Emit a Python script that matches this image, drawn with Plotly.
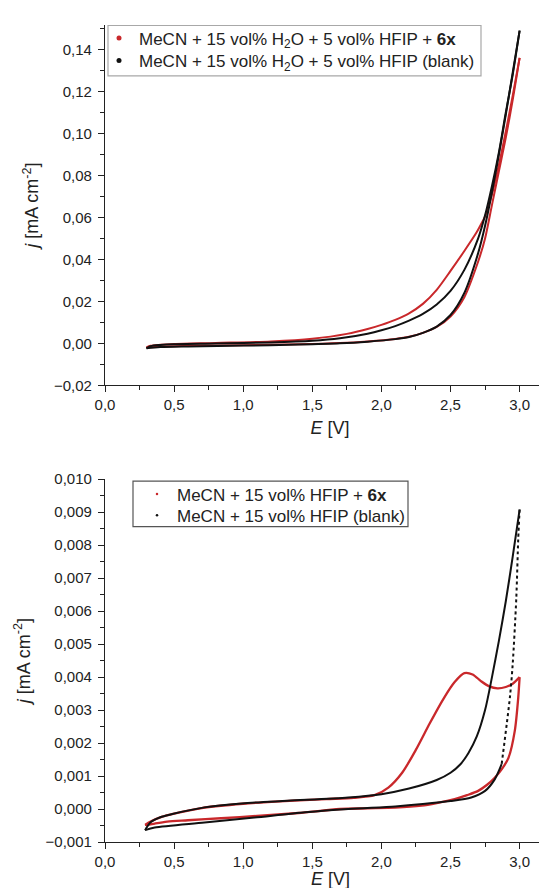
import plotly.graph_objects as go

# ---------------- data ----------------
# Top panel: MeCN + 15 vol% H2O + 5 vol% HFIP
E_top_6x_a = [0.30, 0.40, 0.60, 1.00, 1.40, 1.70, 1.90, 2.10, 2.20, 2.30, 2.40, 2.50, 2.60, 2.70, 2.75, 2.80, 2.85, 2.90, 2.95, 3.00]
j_top_6x_a = [-0.0020, -0.0015, -0.0012, -0.0009, -0.0005, 0.0001, 0.0009, 0.0021, 0.0031, 0.0050, 0.0078, 0.0128, 0.0220, 0.0390, 0.0500, 0.0660, 0.0820, 0.0980, 0.1160, 0.1360]
E_top_6x_b = [3.00, 2.95, 2.90, 2.85, 2.80, 2.75, 2.72, 2.69, 2.60, 2.50, 2.40, 2.30, 2.20, 2.10, 2.00, 1.90, 1.75, 1.50, 1.20, 0.80, 0.50, 0.40, 0.33, 0.30]
j_top_6x_b = [0.1360, 0.1180, 0.1010, 0.0850, 0.0710, 0.0605, 0.0566, 0.0530, 0.0440, 0.0345, 0.0255, 0.0188, 0.0143, 0.0112, 0.0088, 0.0068, 0.0045, 0.0022, 0.0009, 0.0002, -0.0003, -0.0007, -0.0012, -0.0020]

E_top_blank_a = [0.30, 0.40, 0.60, 1.00, 1.40, 1.70, 1.90, 2.10, 2.20, 2.30, 2.40, 2.50, 2.60, 2.70, 2.75, 2.80, 2.85, 2.90, 2.95, 3.00]
j_top_blank_a = [-0.0024, -0.0018, -0.0015, -0.0011, -0.0006, 0.0000, 0.0008, 0.0020, 0.0030, 0.0050, 0.0080, 0.0135, 0.0240, 0.0430, 0.0560, 0.0720, 0.0900, 0.1090, 0.1290, 0.1490]
E_top_blank_b = [3.00, 2.95, 2.90, 2.85, 2.80, 2.75, 2.70, 2.60, 2.50, 2.40, 2.30, 2.20, 2.10, 2.00, 1.90, 1.70, 1.50, 1.20, 0.80, 0.50, 0.40, 0.33, 0.30]
j_top_blank_b = [0.1490, 0.1280, 0.1100, 0.0910, 0.0750, 0.0610, 0.0500, 0.0350, 0.0250, 0.0185, 0.0140, 0.0108, 0.0082, 0.0062, 0.0046, 0.0024, 0.0012, 0.0004, -0.0001, -0.0004, -0.0008, -0.0014, -0.0024]

# Bottom panel: MeCN + 15 vol% HFIP
E_bot_6x_a = [0.29, 0.33, 0.41, 0.50, 0.70, 1.00, 1.30, 1.60, 1.80, 1.95, 2.05, 2.15, 2.25, 2.35, 2.45, 2.53, 2.60, 2.66, 2.72, 2.78, 2.84, 2.90, 2.95, 3.00]
j_bot_6x_a = [-0.00048, -0.00038, -0.00024, -0.00014, 0.00003, 0.00016, 0.00024, 0.00030, 0.00034, 0.00042, 0.00065, 0.00110, 0.00180, 0.00260, 0.00335, 0.00385, 0.00412, 0.00408, 0.00388, 0.00372, 0.00366, 0.00370, 0.00380, 0.00400]
E_bot_6x_b = [3.00, 2.99, 2.965, 2.92, 2.87, 2.82, 2.76, 2.70, 2.62, 2.53, 2.40, 2.29, 2.10, 1.90, 1.70, 1.40, 1.10, 0.84, 0.60, 0.45, 0.36, 0.31, 0.29]
j_bot_6x_b = [0.00400, 0.00338, 0.00237, 0.00156, 0.00120, 0.00095, 0.00072, 0.00055, 0.00042, 0.00030, 0.00018, 0.00010, 0.00004, 0.00002, 0.00000, -0.00012, -0.00021, -0.00028, -0.00034, -0.00038, -0.00044, -0.00048, -0.00048]

E_bot_blank_a = [0.29, 0.33, 0.40, 0.48, 0.72, 0.99, 1.32, 1.76, 2.00, 2.20, 2.40, 2.50, 2.57, 2.63, 2.69, 2.75, 2.80, 2.85, 2.90, 2.95, 3.00]
j_bot_blank_a = [-0.00064, -0.00040, -0.00025, -0.00016, 0.00005, 0.00017, 0.00025, 0.00035, 0.00045, 0.00062, 0.00088, 0.00110, 0.00135, 0.00170, 0.00220, 0.00300, 0.00400, 0.00510, 0.00630, 0.00765, 0.00908]
# steep (sparsely sampled, dotted-looking) part of the return branch, then the flat part
E_bot_blank_b_steep = [3.00, 2.99, 2.976, 2.95, 2.93, 2.87]
j_bot_blank_b_steep = [0.00908, 0.00820, 0.00640, 0.00440, 0.00340, 0.00136]
E_bot_blank_b = [2.87, 2.82, 2.75, 2.65, 2.50, 2.30, 2.10, 1.76, 1.45, 1.08, 0.72, 0.36, 0.29]
j_bot_blank_b = [0.00136, 0.00090, 0.00055, 0.00035, 0.00024, 0.00015, 0.00008, 0.00000, -0.00010, -0.00026, -0.00041, -0.00056, -0.00064]

legend_top = ["MeCN + 15 vol% H<sub>2</sub>O + 5 vol% HFIP + <b>6x</b>",
              "MeCN + 15 vol% H<sub>2</sub>O + 5 vol% HFIP (blank)"]
legend_bot = ["MeCN + 15 vol% HFIP + <b>6x</b>",
              "MeCN + 15 vol% HFIP (blank)"]
x_title = "<i>E</i> [V]"
y_title = "<i>j</i> [mA cm<sup>-2</sup>]"

RED = "#c9282b"
BLK = "#111111"
FONT = "Liberation Sans, Arial, sans-serif"

# layout geometry (pixels of the 547x888 canvas)
W, H = 547, 888
ML, MR, MT, MB = 97, 0, 17, 53.5
PH = H - MT - MB


def py(p):  # pixel row -> paper y
    return 1 - (p - MT) / PH


def px(p):  # pixel column -> paper x
    return (p - ML) / (W - ML - MR)


fig = go.Figure()


def curve(x, y, color, xa, ya, w=2.0, dash="solid"):
    fig.add_trace(go.Scatter(x=x, y=y, mode="lines",
                             line=dict(color=color, width=w, shape="spline", smoothing=0.8, dash=dash),
                             xaxis=xa, yaxis=ya, showlegend=False, hoverinfo="skip"))


curve(E_top_6x_a, j_top_6x_a, RED, "x", "y")
curve(E_top_6x_b, j_top_6x_b, RED, "x", "y")
curve(E_top_blank_a, j_top_blank_a, BLK, "x", "y")
curve(E_top_blank_b, j_top_blank_b, BLK, "x", "y")
curve(E_bot_6x_a, j_bot_6x_a, RED, "x2", "y2", 2.3)
curve(E_bot_6x_b, j_bot_6x_b, RED, "x2", "y2", 2.3)
curve(E_bot_blank_a, j_bot_blank_a, BLK, "x2", "y2")
curve(E_bot_blank_b_steep, j_bot_blank_b_steep, BLK, "x2", "y2", 2.0, "dot")
curve(E_bot_blank_b, j_bot_blank_b, BLK, "x2", "y2")

# legend entries (dots), each in its own legend for exact row placement
entries = [(legend_top[0], RED, 5, "legend", "x", "y"),
           (legend_top[1], BLK, 5, "legend2", "x", "y"),
           (legend_bot[0], RED, 2.5, "legend3", "x2", "y2"),
           (legend_bot[1], BLK, 2.5, "legend4", "x2", "y2")]
for name, col, sz, lg, xa, ya in entries:
    fig.add_trace(go.Scatter(x=[None], y=[None], mode="markers", marker=dict(color=col, size=sz),
                             name=name, legend=lg, xaxis=xa, yaxis=ya))

axis_common = dict(showline=True, linecolor="#222", linewidth=1.3, ticks="outside", ticklen=6, tickwidth=1.2,
                   tickcolor="#222", showgrid=False, zeroline=False, mirror=False,
                   tickfont=dict(size=15, color="#222", family=FONT))

xcommon = dict(axis_common, range=[0, 3.256], dtick=0.5, tick0=0, tickformat=".1f",
               minor=dict(ticks="outside", ticklen=4, dtick=0.25, tick0=0, tickcolor="#222", tickwidth=1.1))

title_font = dict(size=18, color="#222", family=FONT)
ytitle = dict(text=y_title, font=title_font, standoff=10)

leg = dict(xanchor="left", yanchor="middle", bgcolor="rgba(0,0,0,0)", borderwidth=0,
           font=dict(size=17, color="#222", family=FONT), itemwidth=30)

fig.update_layout(
    width=W, height=H, autosize=False,
    margin=dict(l=ML, r=MR, t=MT, b=MB),
    paper_bgcolor="white", plot_bgcolor="white",
    separators=", ",
    font=dict(family=FONT, color="#222"),
    xaxis=dict(xcommon, domain=[0, 1], anchor="y",
               title=dict(text=x_title, font=title_font, standoff=8)),
    yaxis=dict(axis_common, domain=[py(377.5), 1], anchor="x", range=[-0.02, 0.1517], dtick=0.02, tick0=0,
               tickformat=".2f", ticklabelstandoff=3,
               minor=dict(ticks="outside", ticklen=4, dtick=0.01, tick0=0, tickcolor="#222", tickwidth=1.1),
               title=ytitle),
    xaxis2=dict(xcommon, domain=[0, 1], anchor="y2"),
    yaxis2=dict(axis_common, domain=[0, py(471.5)], anchor="x2", range=[-0.001, 0.010], dtick=0.001, tick0=0,
                tickformat=".3f", ticklabelstandoff=3,
                minor=dict(ticks="outside", ticklen=4, dtick=0.0005, tick0=0, tickcolor="#222", tickwidth=1.1),
                title=ytitle),
    legend=dict(leg, x=px(91), y=py(30.5)),
    legend2=dict(leg, x=px(91), y=py(53)),
    legend3=dict(leg, x=px(129), y=py(486.7)),
    legend4=dict(leg, x=px(129), y=py(508)),
    shapes=[
        dict(type="rect", xref="paper", yref="paper", x0=px(100), x1=px(473), y0=py(68), y1=py(17.5),
             line=dict(color="#a8a8a8", width=1.2), fillcolor="rgba(0,0,0,0)", layer="below"),
        dict(type="rect", xref="paper", yref="paper", x0=px(125), x1=px(400), y0=py(519), y1=py(473.5),
             line=dict(color="#555555", width=1.2), fillcolor="rgba(0,0,0,0)", layer="below"),
    ],
    annotations=[
        dict(text=x_title, xref="paper", yref="paper", x=0.5, y=py(872), xanchor="center", yanchor="middle",
             showarrow=False, font=title_font, borderpad=0),
    ],
)

fig.write_html("out.html")
